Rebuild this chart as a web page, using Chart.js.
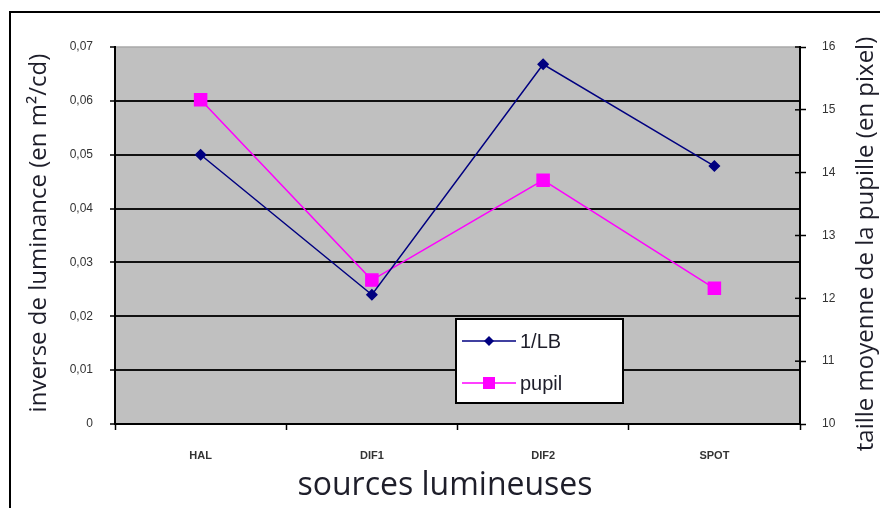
<!DOCTYPE html>
<html>
<head>
<meta charset="utf-8">
<script src="https://cdn.jsdelivr.net/npm/chart.js@4/dist/chart.umd.min.js"></script>
<style>
  html, body { margin: 0; padding: 0; background: #fff; }
  #wrap { width: 880px; height: 508px; position: relative; }
</style>
</head>
<body>
<div id="wrap"><canvas id="c"></canvas></div>
<script>
// sources lumineuses
const sources = ['HAL', 'DIF1', 'DIF2', 'SPOT'];
// inverse de luminance (m²/cd)
const invLB = [0.050, 0.024, 0.0668, 0.0479];
// taille moyenne de la pupille (pixel)
const pupil = [15.16, 12.29, 13.88, 12.16];

const TXT = '#1e1e2a';
const TITLE_FONT = '"Open Sans", Lato, sans-serif';

// fond gris de la zone de tracé + cadre extérieur
const bgPlugin = {
    id: 'bg',
    beforeDraw(chart) {
        const { ctx, chartArea: a } = chart;
        ctx.save();
        ctx.fillStyle = '#c0c0c0';
        ctx.fillRect(a.left, a.top, a.right - a.left, a.bottom - a.top);
        ctx.strokeStyle = '#a8a8a8';
        ctx.lineWidth = 1.5;
        ctx.beginPath(); ctx.moveTo(a.left, a.top); ctx.lineTo(a.right, a.top); ctx.stroke();
        // cadre
        ctx.strokeStyle = '#000';
        ctx.lineWidth = 2;
        ctx.beginPath();
        ctx.moveTo(10, 508); ctx.lineTo(10, 12); ctx.lineTo(880, 12);
        ctx.stroke();
        ctx.restore();
    }
};

function marker(ctx, style, color, x, y) {
    ctx.fillStyle = color;
    ctx.beginPath();
    if (style === 'rectRot') {
        ctx.moveTo(x, y - 5); ctx.lineTo(x + 5, y); ctx.lineTo(x, y + 5); ctx.lineTo(x - 5, y);
    } else {
        ctx.rect(x - 6, y - 6, 12, 12);
    }
    ctx.closePath();
    ctx.fill();
}

// légende dans la zone de tracé, titres, petits traits de l'axe droit
const extraPlugin = {
    id: 'extra',
    afterDraw(chart) {
        const { ctx } = chart;
        const y1 = chart.scales.y1;
        ctx.save();

        ctx.strokeStyle = '#000';
        ctx.lineWidth = 1.5;
        y1.ticks.forEach(t => {
            const yy = y1.getPixelForValue(t.value);
            ctx.beginPath(); ctx.moveTo(y1.left - 5, yy); ctx.lineTo(y1.left, yy); ctx.stroke();
        });

        // légende
        ctx.fillStyle = '#fff';
        ctx.fillRect(456, 319, 167, 84);
        ctx.lineWidth = 2;
        ctx.strokeRect(456, 319, 167, 84);
        const rows = [341, 383];
        chart.data.datasets.forEach((ds, i) => {
            const yy = rows[i];
            ctx.strokeStyle = ds.borderColor;
            ctx.lineWidth = 1.5;
            ctx.beginPath(); ctx.moveTo(462, yy); ctx.lineTo(516, yy); ctx.stroke();
            marker(ctx, ds.pointStyle, ds.backgroundColor, 489, yy);
            ctx.fillStyle = TXT;
            ctx.font = '20px "Liberation Sans", Arial, sans-serif';
            ctx.textAlign = 'left';
            ctx.textBaseline = 'middle';
            ctx.fillText(ds.label, 520, yy + 1);
        });

        ctx.fillStyle = TXT;
        ctx.textAlign = 'center';
        ctx.textBaseline = 'middle';
        // titre axe x
        ctx.font = '32px ' + TITLE_FONT;
        ctx.fillText('sources lumineuses', 445, 486);

        // titres axes y (lus de bas en haut)
        ctx.font = '24px ' + TITLE_FONT;
        ctx.save();
        ctx.translate(39, 233);
        ctx.rotate(-Math.PI / 2);
        ctx.fillText('inverse de luminance (en m²/cd)', 0, 0);
        ctx.restore();
        ctx.translate(866, 244);
        ctx.rotate(-Math.PI / 2);
        ctx.fillText('taille moyenne de la pupille (en pixel)', 0, 0);
        ctx.restore();
    }
};

new Chart(document.getElementById('c'), {
    type: 'line',
    data: {
        labels: sources,
        datasets: [
            { label: '1/LB',  data: invLB, yAxisID: 'y',  borderColor: '#000080', backgroundColor: '#000080',
              borderWidth: 1.5, pointStyle: 'rectRot', pointRadius: 5, pointHoverRadius: 5, tension: 0 },
            { label: 'pupil', data: pupil, yAxisID: 'y1', borderColor: '#ff00ff', backgroundColor: '#ff00ff',
              borderWidth: 1.5, pointStyle: 'rect', pointRadius: 8.5, pointHoverRadius: 8.5, tension: 0 },
        ]
    },
    options: {
        responsive: true,
        maintainAspectRatio: false,
        animation: false,
        layout: { padding: { top: 47, left: 0, right: 0, bottom: 0 } },
        plugins: { legend: { display: false }, tooltip: { enabled: false } },
        scales: {
            x: {
                offset: true,
                grid: { display: true, offset: true, drawOnChartArea: false, tickLength: 6, tickColor: '#000', tickWidth: 1.5 },
                border: { color: '#000', width: 2 },
                ticks: { color: '#333', font: { family: '"Liberation Sans", Arial', size: 11, weight: 'bold' }, padding: 19, maxRotation: 0 },
                afterFit(scale) { scale.height = 84; },
            },
            y: {
                position: 'left',
                min: 0, max: 0.07,
                ticks: { stepSize: 0.01, color: '#333', padding: 17,
                         font: { family: '"Liberation Sans", Arial', size: 12 },
                         callback: v => v === 0 ? '0' : v.toFixed(2).replace('.', ',') },
                grid: {
                    color: c => (c.tick && (c.tick.value === 0 || c.tick.value > 0.0695)) ? 'rgba(0,0,0,0)' : '#111',
                    lineWidth: 2, tickLength: 5, tickColor: '#000', tickWidth: 1.5,
                },
                border: { color: '#000', width: 2 },
                afterFit(scale) { scale.width = 115; },
            },
            y1: {
                position: 'right',
                min: 10, max: 16,
                ticks: { stepSize: 1, color: '#333', padding: 16,
                         font: { family: '"Liberation Sans", Arial', size: 12 } },
                grid: { drawOnChartArea: false, tickLength: 6, tickColor: '#000', tickWidth: 1.5 },
                border: { color: '#000', width: 2 },
                afterFit(scale) { scale.width = 80; },
            },
        },
    },
    plugins: [bgPlugin, extraPlugin],
});
</script>
</body>
</html>
